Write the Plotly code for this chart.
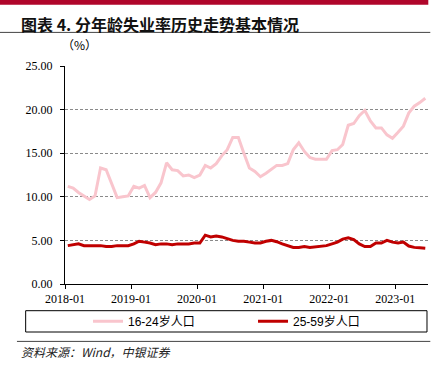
import plotly.graph_objects as go

# ---- data ----
start_month = "2018-01"
youth_16_24 = [
    11.2, 11.0, 10.5, 10.1, 9.7, 10.1, 13.3, 13.1, 11.4, 9.9, 10.0, 10.1,   # 2018
    11.2, 11.0, 11.3, 9.9, 10.5, 11.6, 13.9, 13.1, 13.0, 12.4, 12.5, 12.2,  # 2019
    12.5, 13.6, 13.3, 13.8, 14.7, 15.4, 16.8, 16.8, 15.0, 13.3, 12.9, 12.3, # 2020
    12.7, 13.1, 13.6, 13.6, 13.8, 15.4, 16.2, 15.2, 14.5, 14.3, 14.3, 14.3, # 2021
    15.3, 15.4, 16.0, 18.2, 18.4, 19.3, 19.9, 18.7, 17.9, 17.9, 17.1, 16.7, # 2022
    17.4, 18.1, 19.6, 20.4, 20.8, 21.3,                                     # 2023
]
adult_25_59 = [
    4.4, 4.5, 4.6, 4.4, 4.4, 4.4, 4.4, 4.3, 4.3, 4.4, 4.4, 4.4,   # 2018
    4.6, 4.9, 4.8, 4.7, 4.5, 4.6, 4.6, 4.5, 4.6, 4.6, 4.6, 4.7,   # 2019
    4.7, 5.6, 5.4, 5.5, 5.4, 5.2, 5.0, 4.9, 4.9, 4.8, 4.7, 4.7,   # 2020
    4.9, 5.0, 4.85, 4.6, 4.4, 4.2, 4.2, 4.3, 4.2, 4.25, 4.3, 4.4, # 2021
    4.6, 4.8, 5.15, 5.3, 5.1, 4.6, 4.3, 4.3, 4.7, 4.7, 5.0, 4.8,  # 2022
    4.7, 4.8, 4.35, 4.2, 4.15, 4.1,                               # 2023
]
series_names = ["16-24岁人口", "25-59岁人口"]
tick_labels = ["2018-01", "2019-01", "2020-01", "2021-01", "2022-01", "2023-01"]
y_ticks = [0, 5, 10, 15, 20, 25]

y0, m0 = map(int, start_month.split("-"))
months = []
for i in range(len(youth_16_24)):
    mm = m0 - 1 + i
    months.append(f"{y0 + mm // 12}-{mm % 12 + 1:02d}-01")

# ---- layout geometry (pixels) ----
W, H = 444, 370
L, R, T, B = 65, 16.3, 66.3, 85.7
PW, PH = W - L - R, H - T - B

def px(x):
    return (x - L) / PW

def py(y):
    return (H - B - y) / PH

fig = go.Figure()
fig.add_trace(go.Scatter(
    x=months, y=youth_16_24, name=series_names[0], mode="lines",
    xperiod="M1", xperiodalignment="middle",
    line=dict(color="#F9C5CD", width=3),
))
fig.add_trace(go.Scatter(
    x=months, y=adult_25_59, name=series_names[1], mode="lines",
    xperiod="M1", xperiodalignment="middle",
    line=dict(color="#C00000", width=3),
))

serif = "Liberation Serif, Times New Roman, serif"
cjk = "Noto Sans CJK SC, sans-serif"

fig.update_layout(
    width=W, height=H,
    margin=dict(l=L, r=R, t=T, b=B, pad=0),
    paper_bgcolor="white", plot_bgcolor="white",
    showlegend=True,
    legend=dict(
        orientation="h", x=px(88), y=py(321.5), xanchor="left", yanchor="middle",
        bgcolor="rgba(0,0,0,0)", borderwidth=0,
        font=dict(family="Liberation Sans, " + cjk, size=12, color="#000"),
        entrywidth=120, entrywidthmode="pixels", itemwidth=30,
        tracegroupgap=0,
    ),
    xaxis=dict(
        type="date",
        range=["2018-01-01", "2023-07-01"],
        tickvals=[t + "-01" for t in tick_labels],
        ticktext=tick_labels,
        ticks="outside", ticklen=4, tickcolor="#000", tickwidth=1,
        showline=True, linecolor="#000", linewidth=1,
        showgrid=False, zeroline=False,
        tickfont=dict(family=serif, size=12, color="#000"),
        fixedrange=True,
    ),
    yaxis=dict(
        range=[0, 25], tickvals=y_ticks, tickformat=".2f",
        ticks="outside", ticklen=4, tickcolor="#000", tickwidth=1,
        showline=True, linecolor="#000", linewidth=1,
        showgrid=True, gridcolor="#8a8a8a", gridwidth=1, griddash="3px,2px",
        zeroline=False,
        tickfont=dict(family=serif, size=12, color="#000"),
        ticklabelstandoff=5,
        fixedrange=True,
    ),
    shapes=[
        dict(type="rect", xref="paper", yref="paper", x0=px(0), x1=px(428), y0=py(0), y1=py(5),
             fillcolor="#B0062B", line=dict(width=0), layer="above"),
        dict(type="line", xref="paper", yref="paper", x0=px(0), x1=px(430), y0=py(32.7), y1=py(32.7),
             line=dict(color="#444", width=1)),
        dict(type="rect", xref="paper", yref="paper", x0=px(25.7), x1=px(426.7), y0=py(311), y1=py(332.3),
             line=dict(color="#000", width=1), fillcolor="rgba(0,0,0,0)"),
        dict(type="line", xref="paper", yref="paper", x0=px(17), x1=px(430), y0=py(341.7), y1=py(341.7),
             line=dict(color="#444", width=1)),
    ],
    annotations=[
        dict(text="<b>图表 4. 分年龄失业率历史走势基本情况</b>", xref="paper", yref="paper",
             x=px(19), y=py(24), xanchor="left", yanchor="middle", showarrow=False,
             font=dict(family=cjk, size=16, color="#111")),
        dict(text="（%）", xref="paper", yref="paper",
             x=px(79), y=py(44.5), xanchor="center", yanchor="middle", showarrow=False,
             font=dict(family=cjk, size=12, color="#000")),
        dict(text="<i>资料来源：Wind，中银证券</i>", xref="paper", yref="paper",
             x=px(19), y=py(352), xanchor="left", yanchor="middle", showarrow=False,
             font=dict(family=cjk, size=12, color="#222")),
    ],
)

fig.write_html(
    "out.html",
    config={"displayModeBar": False, "staticPlot": True},
    post_script="document.body.style.margin='0';document.body.style.overflow='hidden';",
)
